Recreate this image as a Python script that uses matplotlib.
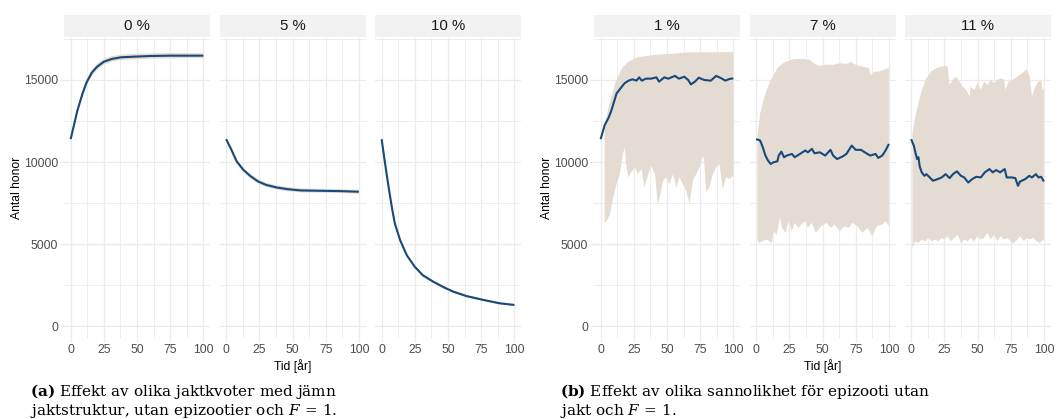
import numpy as np
import matplotlib
matplotlib.use("Agg")
import matplotlib.pyplot as plt
from matplotlib.patches import Rectangle

plt.rcParams['font.family'] = ['Liberation Sans', 'DejaVu Sans']
plt.rcParams['mathtext.fontset'] = 'dejavuserif'

# ---------------- data ----------------
# (a) hunting quotas, even hunting structure
quota_labels = ["0 %", "5 %", "10 %"]

q0_years = [0, 3, 5, 9, 12, 16, 20, 25, 31, 38, 48, 60, 75, 88, 100]
q0_mean = [11400, 12420, 13120, 14180, 14850, 15450, 15810, 16110, 16280, 16380, 16420, 16460, 16480, 16480, 16480]
q0_high = [11400, 12570, 13300, 14370, 15050, 15630, 15990, 16280, 16450, 16550, 16590, 16620, 16640, 16630, 16630]
q0_low = [11400, 12270, 12940, 13990, 14650, 15270, 15630, 15940, 16110, 16210, 16250, 16300, 16320, 16330, 16330]

q5_years = [0, 4, 8, 13, 18, 24, 30, 38, 46, 56, 70, 85, 100]
q5_mean = [11400, 10750, 10040, 9530, 9170, 8830, 8620, 8460, 8360, 8280, 8260, 8240, 8200]
q5_high = [11400, 10870, 10170, 9660, 9300, 8960, 8750, 8590, 8490, 8400, 8380, 8360, 8320]
q5_low = [11400, 10630, 9910, 9400, 9040, 8700, 8490, 8330, 8230, 8160, 8140, 8120, 8080]

q10_years = [0, 2, 4, 6, 8, 10, 14, 19, 25, 31, 39, 47, 54, 64, 77, 89, 100]
q10_mean = [11400, 10250, 9150, 8100, 7110, 6250, 5240, 4330, 3630, 3120, 2720, 2380, 2120, 1850, 1610, 1410, 1310]
q10_high = [11400, 10350, 9260, 8210, 7220, 6350, 5340, 4420, 3720, 3200, 2800, 2460, 2190, 1920, 1680, 1470, 1370]
q10_low = [11400, 10150, 9040, 7990, 7000, 6150, 5140, 4240, 3540, 3040, 2640, 2300, 2050, 1780, 1540, 1350, 1250]

# (b) epizootic probability, no hunting
epi_labels = ["1 %", "7 %", "11 %"]

e1_years = [0, 3, 6, 8, 12, 14, 18, 21, 24, 27, 29, 31, 34, 38, 42, 44, 48, 51, 56, 59,
            63, 66, 68, 71, 74, 78, 83, 87, 91, 94, 97, 100]
e1_mean = [11400, 12240, 12710, 13120, 14180, 14390, 14800, 14960, 15040, 14960, 15160, 14960, 15080, 15080,
           15160, 14900, 15160, 15080, 15250, 15080, 15200, 15000, 14730, 14900, 15140, 15000, 14960, 15250,
           15100, 14960, 15060, 15100]
e1_high_years = [3, 6, 11, 16, 21, 28, 41, 53, 66, 100]
e1_high = [12140, 13360, 14800, 15720, 16120, 16390, 16530, 16600, 16680, 16700]
e1_low_years = [3, 4.5, 7, 9.5, 12, 14.5, 16, 18, 19.5, 21, 23, 26, 28, 31, 33, 36, 38, 41, 43, 44.5,
                47, 49.5, 52, 54.5, 57, 59.5, 62, 64.5, 67, 69.5, 72, 74.5, 77, 78, 79.5, 82, 84.5, 87,
                89.5, 92, 94.5, 97, 100]
e1_low = [6310, 6410, 6820, 7840, 8660, 9270, 10090, 10910, 9680, 9070, 9380, 9680, 9270, 9580, 8460, 9270,
          9790, 9270, 7430, 7840, 8870, 9070, 8660, 9270, 8460, 9070, 8660, 8250, 7470, 8870, 9270, 9680,
          10400, 10090, 8150, 8460, 9270, 9680, 9890, 8350, 9070, 8970, 9170]

e7_years = [0, 3, 5, 7, 9, 11, 13, 16, 17, 19, 21, 23, 27, 29, 33, 37, 39, 42, 44, 48, 52, 56, 58, 61,
            65, 68, 72, 75, 79, 83, 86, 90, 92, 95, 97.5, 100]
e7_mean = [11400, 11320, 10910, 10400, 10090, 9890, 9990, 10050, 10400, 10640, 10300, 10400, 10500, 10300,
           10500, 10710, 10600, 10810, 10540, 10600, 10400, 10750, 10400, 10190, 10340, 10500, 11010, 10750,
           10750, 10540, 10400, 10500, 10260, 10400, 10710, 11110]
e7_high_years = [1, 3, 7, 11, 16, 21, 28, 35.5, 40, 44, 48, 53, 58, 63, 68, 71.5, 75, 80, 85, 86.5,
                 89, 92.5, 96, 100]
e7_high = [11520, 12960, 14180, 15000, 15720, 16060, 16270, 16290, 16230, 15980, 15860, 15940, 15920, 16020,
           15980, 16100, 15920, 15820, 15720, 15310, 15510, 15510, 15610, 15720]
e7_low_years = [1, 2, 4.5, 8, 12, 13, 15.5, 18, 19.5, 22, 24.5, 27, 29, 32, 34, 37, 39, 42, 45, 49,
                53, 56.5, 59, 63, 66.5, 70, 72.5, 76.5, 80, 84, 87.5, 91, 95, 97.5, 100]
e7_low = [5300, 5080, 5180, 5290, 5080, 5800, 5590, 6620, 6000, 5700, 6410, 5800, 6310, 6000, 6210, 6410,
          6000, 6310, 5700, 6100, 6310, 6000, 6210, 5800, 6100, 6000, 6310, 6100, 5700, 6000, 5490, 6100,
          6210, 6410, 6100]

e11_years = [0, 2, 3.5, 4.5, 5.5, 6.5, 8, 10, 11.5, 14, 16.5, 20, 23, 26, 29, 31.5, 34.5, 37.5, 40, 43,
             46, 49, 52.5, 55.5, 59, 61.5, 64, 67, 70.5, 72, 76, 78.5, 80.5, 82, 86, 89, 91, 94, 96, 98, 100]
e11_mean = [11400, 11010, 10500, 10190, 10300, 9720, 9380, 9170, 9270, 9070, 8870, 8970, 9070, 9270, 9030,
            9270, 9440, 9170, 9070, 8760, 8970, 9110, 9070, 9380, 9580, 9380, 9520, 9380, 9580, 9070, 9070,
            9030, 8560, 8820, 8970, 9170, 9070, 9270, 9070, 9110, 8820]
e11_high_years = [1, 3, 5.5, 8, 11.5, 15, 19, 23, 26.5, 27.5, 29, 31.5, 34, 36.5, 39, 41.5, 44, 45, 47.5,
                  50, 52.5, 55, 57.5, 60, 62.5, 65, 67.5, 70, 71, 73.5, 76, 80, 83.5, 87, 89.5, 91, 93.5,
                  96, 98, 99, 100]
e11_high = [11730, 12750, 13570, 14390, 15100, 15510, 15720, 15820, 15860, 15820, 14700, 15040, 15200, 14900,
            14590, 14400, 14000, 14590, 14390, 14800, 14400, 14900, 14690, 15000, 14800, 15000, 15100, 15040,
            14400, 14900, 15000, 15200, 15410, 15650, 15200, 14000, 14590, 14900, 15000, 14390, 14490]
e11_low_years = [1, 3, 5.5, 8, 10.5, 13, 15.5, 18, 20.5, 23, 25, 27.5, 30, 32.5, 35, 37.5, 40, 42.5, 45,
                 47.5, 50, 52.5, 55, 57.5, 60, 62.5, 65, 67.5, 70, 72.5, 75, 77, 80, 82, 85, 87, 89.5,
                 92, 94.5, 97, 100]
e11_low = [4780, 5180, 5080, 5290, 5180, 5390, 5180, 5290, 5180, 5390, 5290, 5490, 5180, 5390, 5590, 5080,
           5290, 5180, 5390, 5180, 5490, 5290, 5390, 5700, 5290, 5590, 5180, 5490, 5290, 5390, 5180, 5080,
           5290, 5490, 5180, 5390, 5290, 5390, 5180, 5080, 5290]

x_ticks = [0, 25, 50, 75, 100]
y_ticks = [0, 5000, 10000, 15000]
y_tick_labels = ["0", "5000", "10000", "15000"]

caption_a = [r"$\mathbf{(a)}$ Effekt av olika jaktkvoter med jämn",
             r"jaktstruktur, utan epizootier och $F\, =\, 1$."]
caption_b = [r"$\mathbf{(b)}$ Effekt av olika sannolikhet för epizooti utan",
             r"jakt och $F\, =\, 1$."]

# ---------------- styling ----------------
LINE = "#17497A"
BAND = "#E4DCD3"
GRID = "#EBEBEB"
STRIP = "#F2F2F2"
TICK_TXT = "#4D4D4D"

W, H = 1061, 419
fig = plt.figure(figsize=(W / 100, H / 100), dpi=100)

PANEL_TOP, PANEL_BOT = 38, 338
STRIP_TOP, STRIP_BOT = 15, 37
PANEL_W = 146


def add_panel(x0, label, years, mean, band, first):
    ax = fig.add_axes([x0 / W, 1 - PANEL_BOT / H, PANEL_W / W, (PANEL_BOT - PANEL_TOP) / H])
    ax.set_xlim(-5, 105)
    ax.set_ylim(-700, 17555)
    ax.set_xticks(x_ticks)
    ax.set_xticks([12.5, 37.5, 62.5, 87.5], minor=True)
    ax.set_yticks(y_ticks)
    ax.set_yticks([2500, 7500, 12500, 17500], minor=True)
    ax.grid(which="major", color=GRID, lw=0.9)
    ax.grid(which="minor", color=GRID, lw=0.6)
    ax.set_axisbelow(True)
    for s in ax.spines.values():
        s.set_visible(False)
    ax.tick_params(which="major", length=2.6, width=0.9, color=GRID, pad=1.6,
                   labelsize=8.7, labelcolor=TICK_TXT)
    ax.tick_params(which="minor", length=0)
    if first:
        ax.set_yticklabels(y_tick_labels)
    else:
        ax.tick_params(axis="y", which="major", length=0, labelleft=False)
    hx, hy, lx, ly = band
    ax.fill(list(hx) + list(lx)[::-1], list(hy) + list(ly)[::-1], color=BAND, lw=0, zorder=2)
    ax.plot(years, mean, color=LINE, lw=1.5, zorder=3, solid_capstyle="butt")
    fig.add_artist(Rectangle((x0 / W, 1 - STRIP_BOT / H), PANEL_W / W, (STRIP_BOT - STRIP_TOP) / H,
                             transform=fig.transFigure, facecolor=STRIP, edgecolor="none"))
    fig.text((x0 + PANEL_W / 2) / W, 1 - (STRIP_TOP + STRIP_BOT) / 2 / H, label,
             ha="center", va="center", fontsize=10.8, color="#1A1A1A")
    return ax


left_x = [64, 219.5, 375]
right_x = [594, 749.5, 904.5]

left_sets = [
    (q0_years, q0_mean, (q0_years, q0_high, q0_years, q0_low)),
    (q5_years, q5_mean, (q5_years, q5_high, q5_years, q5_low)),
    (q10_years, q10_mean, (q10_years, q10_high, q10_years, q10_low)),
]
right_sets = [
    (e1_years, e1_mean, (e1_high_years, e1_high, e1_low_years, e1_low)),
    (e7_years, e7_mean, (e7_high_years, e7_high, e7_low_years, e7_low)),
    (e11_years, e11_mean, (e11_high_years, e11_high, e11_low_years, e11_low)),
]

for i, (x0, lab, (yrs, mn, bd)) in enumerate(zip(left_x, quota_labels, left_sets)):
    add_panel(x0, lab, yrs, mn, bd, i == 0)
for i, (x0, lab, (yrs, mn, bd)) in enumerate(zip(right_x, epi_labels, right_sets)):
    add_panel(x0, lab, yrs, mn, bd, i == 0)

# axis titles
for xs in (left_x, right_x):
    cx = (xs[0] + xs[-1] + PANEL_W) / 2
    fig.text(cx / W, 1 - 366 / H, "Tid [år]", ha="center", va="center", fontsize=8.7, color="black")
    fig.text((xs[0] - 47.5) / W, 1 - 188 / H, "Antal honor", ha="center", va="center",
             rotation=90, fontsize=8.7, color="black")

# captions
for x0, lines in ((30, caption_a), (560, caption_b)):
    for yb, txt in ((396.3, lines[0]), (414.6, lines[1])):
        fig.text(x0 / W, 1 - yb / H, txt, ha="left", va="baseline", fontsize=11,
                 family="DejaVu Serif", color="black")

fig.savefig("out.png", dpi=100, facecolor="white")
